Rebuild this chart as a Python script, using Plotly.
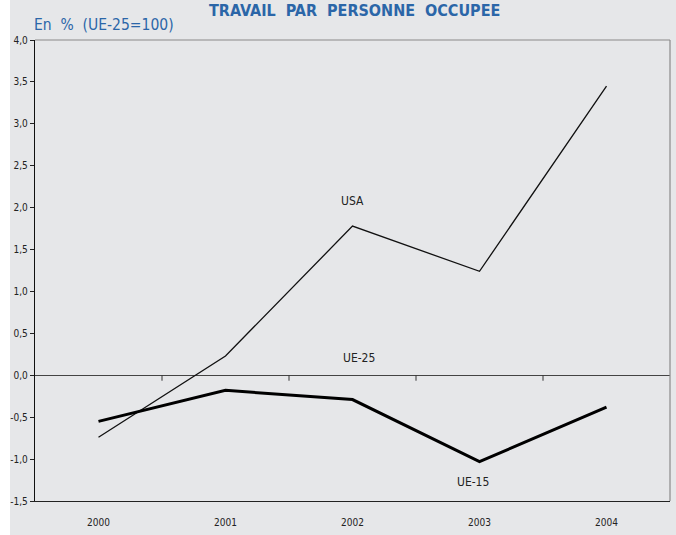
import plotly.graph_objects as go

years = ["2000", "2001", "2002", "2003", "2004"]
usa = [-0.74, 0.23, 1.78, 1.24, 3.45]
ue15 = [-0.55, -0.18, -0.29, -1.03, -0.38]
ytick_vals = [4.0, 3.5, 3.0, 2.5, 2.0, 1.5, 1.0, 0.5, 0.0, -0.5, -1.0, -1.5]
ytick_text = ["4,0", "3,5", "3,0", "2,5", "2,0", "1,5", "1,0", "0,5", "0,0", "-0,5", "-1,0", "-1,5"]

FONT = "DejaVu Sans Condensed, sans-serif"
BG = "#e6e7e9"
BLUE = "#2b66a8"

fig = go.Figure()
fig.add_trace(go.Scatter(x=years, y=usa, mode="lines", name="USA",
                         line=dict(color="#111111", width=1.3)))
fig.add_trace(go.Scatter(x=years, y=ue15, mode="lines", name="UE-15",
                         line=dict(color="#000000", width=3)))

shapes = []
# top and right frame (grey)
shapes.append(dict(type="line", xref="paper", yref="paper", x0=0, x1=1, y0=1, y1=1,
                   line=dict(color="#8a8a8a", width=1.2)))
shapes.append(dict(type="line", xref="paper", yref="paper", x0=1, x1=1, y0=0, y1=1,
                   line=dict(color="#8a8a8a", width=1.2)))
# tick marks on zero line at category boundaries
for b in [0.5, 1.5, 2.5, 3.5]:
    shapes.append(dict(type="line", xref="x", yref="y", x0=b, x1=b, y0=0, y1=-0.065,
                       line=dict(color="#333333", width=1)))
# white left margin strip
shapes.append(dict(type="rect", xref="paper", yref="paper", x0=-0.06, x1=-0.0394, y0=-0.2, y1=1.2,
                   fillcolor="white", line=dict(width=0), layer="below"))

fig.update_layout(
    width=676, height=535,
    margin=dict(l=35, r=6, t=40, b=34),
    paper_bgcolor=BG, plot_bgcolor=BG,
    showlegend=False,
    font=dict(family=FONT, color="#222222", size=10),
    shapes=shapes,
    annotations=[
        dict(text="<b>TRAVAIL  PAR  PERSONNE  OCCUPEE</b>", xref="paper", yref="paper",
             x=0.503, y=1.063, xanchor="center", yanchor="middle", showarrow=False,
             font=dict(family=FONT, size=16, color=BLUE)),
        dict(text="En  %  (UE-25=100)", xref="paper", yref="paper",
             x=-0.004, y=1.033, xanchor="left", yanchor="middle", showarrow=False,
             font=dict(family=FONT, size=15.5, color=BLUE)),
        dict(text="USA", x=2, y=2.08, xref="x", yref="y", showarrow=False,
             xanchor="center", font=dict(family=FONT, size=12, color="#222222")),
        dict(text="UE-25", x=2.05, y=0.21, xref="x", yref="y", showarrow=False,
             xanchor="center", font=dict(family=FONT, size=12, color="#222222")),
        dict(text="UE-15", x=2.95, y=-1.27, xref="x", yref="y", showarrow=False,
             xanchor="center", font=dict(family=FONT, size=12, color="#222222")),
    ],
)
fig.update_xaxes(type="category", range=[-0.5, 4.5], showline=True, linecolor="#222222",
                 linewidth=1.2, showgrid=False, zeroline=False,
                 ticks="outside", ticklen=12, tickcolor=BG,
                 tickfont=dict(family=FONT, size=10, color="#222222"))
fig.update_yaxes(range=[-1.5, 4.0], tickvals=ytick_vals, ticktext=ytick_text,
                 showline=True, linecolor="#111111", linewidth=1.3, showgrid=False,
                 zeroline=True, zerolinecolor="#444444", zerolinewidth=1,
                 ticks="outside", ticklen=4, tickcolor="#222222",
                 tickfont=dict(family=FONT, size=10, color="#222222"))

fig.write_html("out.html", config={"displayModeBar": False},
               post_script="document.body.style.margin='0';document.body.style.overflow='hidden';")
